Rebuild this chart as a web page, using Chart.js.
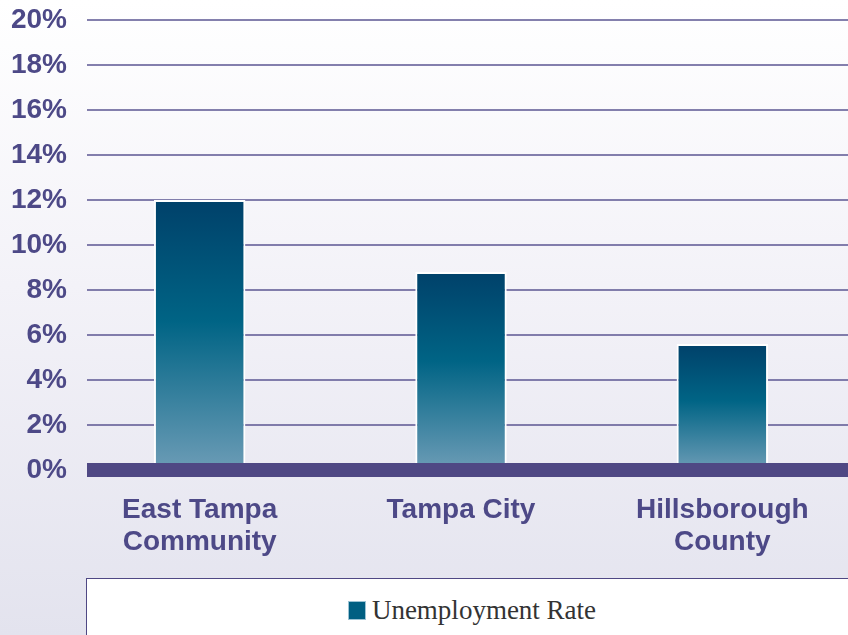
<!DOCTYPE html>
<html>
<head>
<meta charset="utf-8">
<script src="https://cdn.jsdelivr.net/npm/chart.js@4/dist/chart.umd.min.js"></script>
<style>
  html, body { margin: 0; padding: 0; }
  body {
    width: 848px; height: 635px; overflow: hidden; position: relative;
    background: linear-gradient(#ffffff 0%, #f3f2f8 45%, #e3e3ee 100%);
  }
  #wrap { position: absolute; left: 0; top: 0; width: 853px; height: 635px; }
  #legend {
    position: absolute; left: 86px; top: 578px; width: 772px; height: 70px;
    background: #fff; border: 1px solid #4f4884; box-sizing: border-box;
    display: flex; justify-content: center; align-items: flex-start; padding-top: 16px;
    font-family: "Liberation Serif", serif; font-size: 27px; color: #333;
  }
  #legend .item { display: flex; align-items: center; height: 30px; }
  #legend .sw { width: 18px; height: 19px; margin-right: 6px; box-sizing: border-box; border: 1px solid #9cc3d4; }
</style>
</head>
<body>
<div id="wrap"><canvas id="chart"></canvas></div>
<div id="legend"></div>
<script>
// data
const categories = [['East Tampa', 'Community'], 'Tampa City', ['Hillsborough', 'County']];
const unemploymentRate = [12.0, 8.8, 5.6];
const seriesLabel = 'Unemployment Rate';
const yMin = 0, yMax = 20, yStep = 2;

const textColor = '#4d4987';
const gridColor = '#5b5692';

// grid lines start a bit right of the axis, and the thick 0% bar
const customGrid = {
  id: 'customGrid',
  beforeDatasetsDraw(chart) {
    const { ctx, chartArea, scales: { y } } = chart;
    ctx.save();
    ctx.strokeStyle = gridColor;
    ctx.lineWidth = 1.5;
    y.ticks.forEach(t => {
      if (t.value === 0) return;
      const py = y.getPixelForValue(t.value);
      ctx.beginPath();
      ctx.moveTo(chartArea.left + 18, py);
      ctx.lineTo(chartArea.right, py);
      ctx.stroke();
    });
    ctx.restore();
  },
  afterDatasetsDraw(chart) {
    const { ctx, chartArea, scales: { y } } = chart;
    const py = y.getPixelForValue(0);
    ctx.save();
    ctx.fillStyle = '#4f4884';
    ctx.fillRect(chartArea.left + 18, py - 7, chartArea.right - chartArea.left - 18, 14);
    ctx.restore();
  }
};

function barGradient(c) {
  const chart = c.chart;
  if (!chart.chartArea || c.type !== 'data') return '#006283';
  const y = chart.scales.y;
  const top = y.getPixelForValue(c.raw);
  const bot = y.getPixelForValue(0);
  const g = chart.ctx.createLinearGradient(0, top, 0, bot);
  g.addColorStop(0, '#00416a');
  g.addColorStop(0.45, '#006485');
  g.addColorStop(1, '#6c9cb6');
  return g;
}

const chart = new Chart(document.getElementById('chart'), {
  type: 'bar',
  data: {
    labels: categories,
    datasets: [{
      label: seriesLabel,
      data: unemploymentRate,
      backgroundColor: barGradient,
      borderColor: '#ffffff',
      borderWidth: 2,
      barPercentage: 0.35,
      categoryPercentage: 1.0
    }]
  },
  plugins: [customGrid],
  options: {
    responsive: true,
    maintainAspectRatio: false,
    animation: false,
    layout: { padding: { top: 20, right: 0, left: 0, bottom: 0 } },
    plugins: {
      legend: { display: false },
      tooltip: { enabled: false }
    },
    scales: {
      x: {
        grid: { display: false, drawTicks: false },
        border: { display: false },
        ticks: {
          padding: 24,
          color: textColor,
          font: { family: '"Liberation Sans", Arial, sans-serif', weight: 'bold', size: 28, lineHeight: 1.15 }
        },
        afterFit: s => { s.height = 165; }
      },
      y: {
        min: yMin,
        max: yMax,
        grid: { display: false, drawTicks: false },
        border: { display: false },
        ticks: {
          stepSize: yStep,
          padding: 2,
          color: textColor,
          font: { family: '"Liberation Sans", Arial, sans-serif', weight: 'bold', size: 28 },
          callback: v => v + '%'
        },
        afterFit: s => { s.width = 69; }
      }
    }
  }
});

// legend box built from the dataset
const legendEl = document.getElementById('legend');
chart.data.datasets.forEach(ds => {
  const item = document.createElement('div');
  item.className = 'item';
  const sw = document.createElement('span');
  sw.className = 'sw';
  sw.style.background = '#005f82';
  const txt = document.createElement('span');
  txt.textContent = ds.label;
  item.appendChild(sw);
  item.appendChild(txt);
  legendEl.appendChild(item);
});
</script>
</body>
</html>
